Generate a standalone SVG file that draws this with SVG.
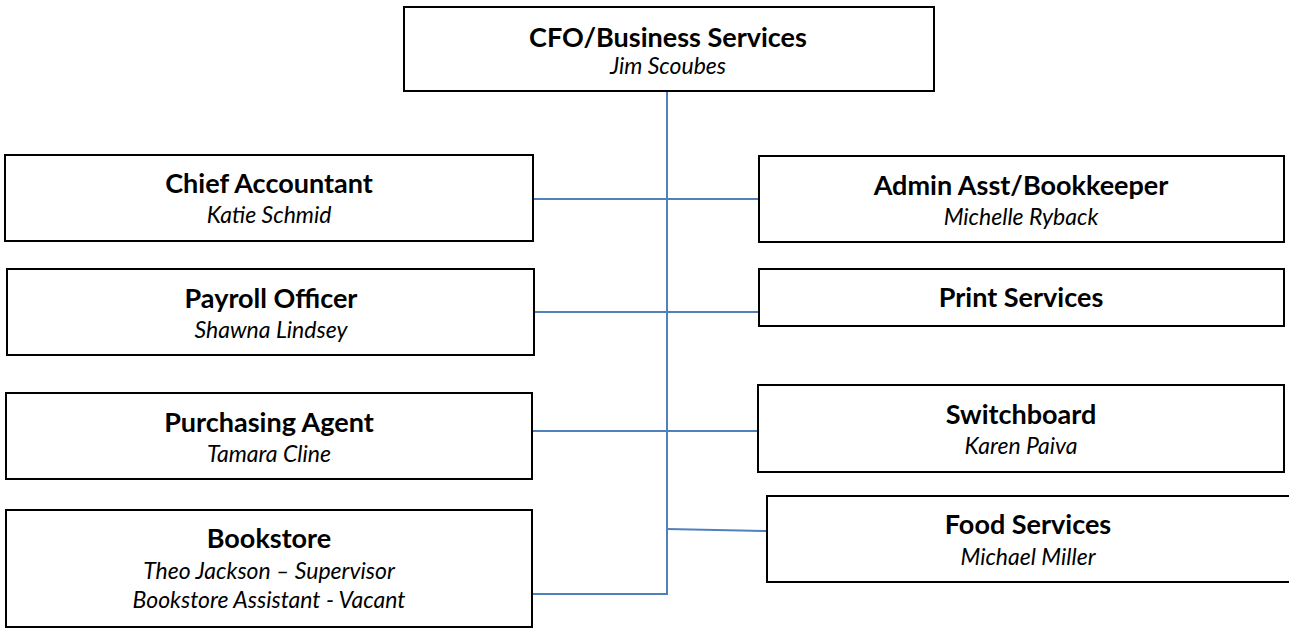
<svg xmlns="http://www.w3.org/2000/svg" width="1289" height="629" viewBox="0 0 1289 629">
<style>
.box{fill:#ffffff;stroke:#000000;stroke-width:2}
.t{font-family:Lato,"Liberation Sans",sans-serif;font-weight:bold;font-size:27px;fill:#000;text-anchor:middle}
.s{font-family:Lato,"Liberation Sans",sans-serif;font-style:italic;font-size:23px;fill:#000;text-anchor:middle}
.c{stroke:#4F81BD;stroke-width:2;fill:none}
</style>
<rect width="1289" height="629" fill="#ffffff"/>
<g id="connectors">
<line class="c" x1="667" y1="91" x2="667" y2="594"/>
<line class="c" x1="533" y1="199" x2="759" y2="199"/>
<line class="c" x1="534" y1="312" x2="759" y2="312"/>
<line class="c" x1="532" y1="431" x2="758" y2="431"/>
<line class="c" x1="667" y1="529" x2="767" y2="531"/>
<line class="c" x1="532" y1="594" x2="668" y2="594"/>
</g>
<g id="cfo">
<rect class="box" x="404" y="7" width="530" height="84"/>
<text class="t" x="668" y="47">CFO/Business Services</text>
<text class="s" x="668" y="74">Jim Scoubes</text>
</g>
<g id="chief-accountant">
<rect class="box" x="5" y="155" width="528" height="86"/>
<text class="t" x="269" y="193">Chief Accountant</text>
<text class="s" x="269" y="223">Katie Schmid</text>
</g>
<g id="payroll-officer">
<rect class="box" x="7" y="269" width="527" height="86"/>
<text class="t" x="271" y="308">Payroll Officer</text>
<text class="s" x="271" y="338">Shawna Lindsey</text>
</g>
<g id="purchasing-agent">
<rect class="box" x="6" y="393" width="526" height="86"/>
<text class="t" x="269" y="432">Purchasing Agent</text>
<text class="s" x="269" y="462">Tamara Cline</text>
</g>
<g id="bookstore">
<rect class="box" x="6" y="510" width="526" height="117"/>
<text class="t" x="269" y="548">Bookstore</text>
<text class="s" x="269" y="579">Theo Jackson – Supervisor</text>
<text class="s" x="269" y="608">Bookstore Assistant - Vacant</text>
</g>
<g id="admin-asst">
<rect class="box" x="759" y="156" width="525" height="86"/>
<text class="t" x="1021" y="195">Admin Asst/Bookkeeper</text>
<text class="s" x="1021" y="225">Michelle Ryback</text>
</g>
<g id="print-services">
<rect class="box" x="759" y="269" width="525" height="57"/>
<text class="t" x="1021" y="307">Print Services</text>
</g>
<g id="switchboard">
<rect class="box" x="758" y="385" width="526" height="87"/>
<text class="t" x="1021" y="424">Switchboard</text>
<text class="s" x="1021" y="454">Karen Paiva</text>
</g>
<g id="food-services">
<rect class="box" x="767" y="496" width="530" height="86"/>
<text class="t" x="1028" y="534">Food Services</text>
<text class="s" x="1028" y="565">Michael Miller</text>
</g>
</svg>
